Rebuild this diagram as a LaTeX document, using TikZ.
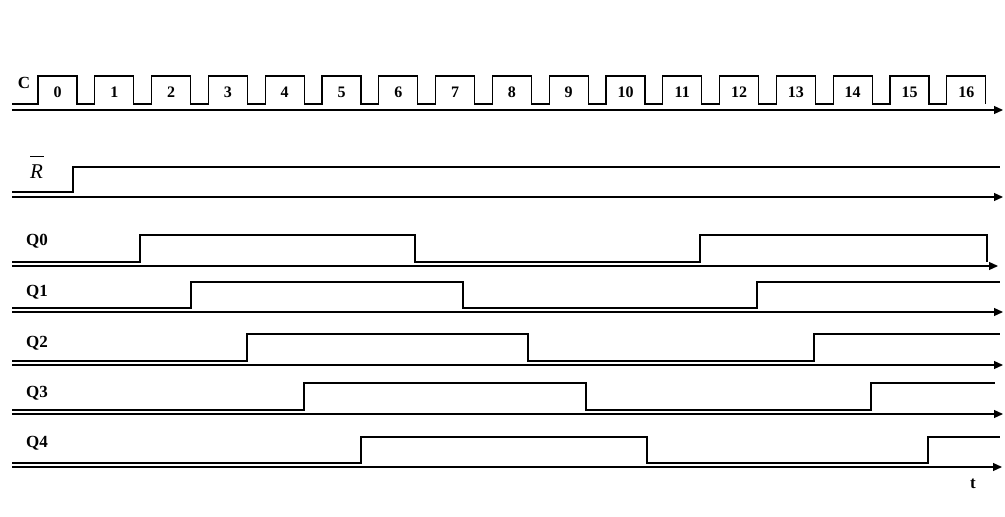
\documentclass[tikz,border=0pt]{standalone}
\usepackage{fontspec}
\setmainfont{Liberation Serif}
\usetikzlibrary{arrows.meta}
\begin{document}
\begin{tikzpicture}[x=1pt,y=-1pt,
		wave/.style = {line width=1.2pt},
		axis/.style = {line width=1.2pt, -{Triangle[length=9pt,width=8pt]}},
		lbl/.style = {font=\fontsize{17}{17}\selectfont\bfseries, inner sep=0pt},
		num/.style = {font=\fontsize{16}{16}\selectfont\bfseries, inner sep=0pt}]
			\useasboundingbox (0,0) rectangle (1005,517);

			\node[lbl] (c) at (24,83) {C};
			\draw[wave] (12,104) foreach \k in {0,...,16} { -- ({38+56.8*\k},104) -- ({38+56.8*\k},76) -- ({77+56.8*\k},76) -- ({77+56.8*\k},104) };
			\foreach \k in {0,...,16}
				\node[num] (n\k) at ({57.5+56.8*\k},92) {\k};
			\draw[axis] (12,110) -- (1003,110);

			\node[inner sep=0pt, anchor=base] (r) at (37,178) {\fontsize{21}{21}\selectfont$\overline{\rule{0pt}{20pt}\mbox{\itshape R\hspace{1pt}}}$};
			\draw[wave] (12,192) -- (73,192) -- (73,167) -- (1000,167);
			\draw[axis] (12,197) -- (1003,197);

			\node[lbl] (q0) at (37,241) {Q0};
			\draw[wave] (12,262) -- (140,262) -- (140,235) -- (415,235) -- (415,262) -- (700,262) -- (700,235) -- (987,235) -- (987,262);
			\draw[axis] (12,266) -- (998,266);

			\node[lbl] (q1) at (37,292) {Q1};
			\draw[wave] (12,308) -- (191,308) -- (191,282) -- (463,282) -- (463,308) -- (757,308) -- (757,282) -- (1000,282);
			\draw[axis] (12,312) -- (1003,312);

			\node[lbl] (q2) at (37,343) {Q2};
			\draw[wave] (12,361) -- (247,361) -- (247,334) -- (528,334) -- (528,361) -- (814,361) -- (814,334) -- (1000,334);
			\draw[axis] (12,365) -- (1003,365);

			\node[lbl] (q3) at (37,393) {Q3};
			\draw[wave] (12,410) -- (304,410) -- (304,383) -- (586,383) -- (586,410) -- (871,410) -- (871,383) -- (995,383);
			\draw[axis] (12,414) -- (1003,414);

			\node[lbl] (q4) at (37,443) {Q4};
			\draw[wave] (12,463) -- (361,463) -- (361,437) -- (647,437) -- (647,463) -- (928,463) -- (928,437) -- (1000,437);
			\draw[axis] (12,467) -- (1002,467);

			\node[lbl] (t) at (973,484) {t};
		\end{tikzpicture}
\end{document}
